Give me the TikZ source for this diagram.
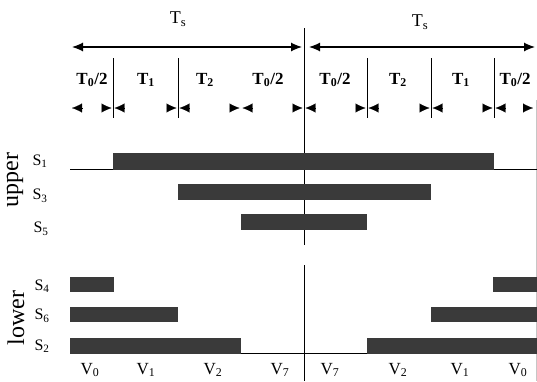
\documentclass[tikz,border=0pt]{standalone}
\usepackage{fontspec}
\setmainfont{Liberation Serif}
\usetikzlibrary{arrows.meta}
\definecolor{barc}{HTML}{3A3A3A}
\newcommand\sbs[1]{\textsubscript{#1}}
\begin{document}
\begin{tikzpicture}[x=1pt,y=-1pt,
  bar/.style={fill=barc,draw=none},
  thin line/.style={line width=0.9pt,black},
  dimtip/.style={-{Latex[length=10pt,width=9pt]},line width=0.1pt},
  seglab/.style={font=\fontsize{17}{17}\selectfont\bfseries,inner sep=0pt},
  slab/.style={font=\fontsize{16}{16}\selectfont,inner sep=0pt},
  vlab/.style={font=\fontsize{17}{17}\selectfont,inner sep=0pt},
  tlab/.style={font=\fontsize{18}{18}\selectfont,inner sep=0pt},
  grplab/.style={font=\fontsize{24}{24}\selectfont,inner sep=0pt,rotate=90}]
\useasboundingbox (0,0) rectangle (537,381);
% faint right border
\draw[gray!45,line width=0.6pt] (536.5,100) -- (536.5,381);
% period arrows
\coordinate (la) at (72,47); \coordinate (lb) at (302,47);
\coordinate (ra) at (309,47); \coordinate (rb) at (535,47);
\draw[line width=1.2pt,{Latex[length=11pt,width=9pt]}-{Latex[length=11pt,width=9pt]}] (la) -- (lb);
\draw[line width=1.2pt,{Latex[length=11pt,width=9pt]}-{Latex[length=11pt,width=9pt]}] (ra) -- (rb);
\node[tlab] (tsl) at (178,19) {T\sbs{s}};
\node[tlab] (tsr) at (420,22) {T\sbs{s}};
% center line
\draw[thin line] (304,28) -- (304,245);
\draw[thin line] (304,265) -- (304,381);
% segment boundaries
\foreach \x in {113,178,367,431,494}{\draw[thin line] (\x,58) -- (\x,118);}
% segment labels
\node[seglab] (a1) at (92,80) {T\sbs{0}/2};
\node[seglab] (a2) at (146,80) {T\sbs{1}};
\node[seglab] (a3) at (205,80) {T\sbs{2}};
\node[seglab] (a4) at (268,80) {T\sbs{0}/2};
\node[seglab] (a5) at (335,80) {T\sbs{0}/2};
\node[seglab] (a6) at (398,80) {T\sbs{2}};
\node[seglab] (a7) at (461,80) {T\sbs{1}};
\node[seglab] (a8) at (515,80) {T\sbs{0}/2};
% dimension tips
\draw[dimtip] (82,108) -- (72,108);
\foreach \x in {113,178,241,304,367,431,494}{
  \draw[dimtip] (\x-11.5,108) -- (\x-1.5,108);
  \draw[dimtip] (\x+11.5,108) -- (\x+1.5,108);
}
\draw[dimtip] (523,108) -- (533,108);
% upper
\draw[thin line] (70,169.5) -- (537,169.5);
\fill[bar] (113,153) rectangle (494,170);
\fill[bar] (178,184) rectangle (431,200);
\fill[bar] (241,214) rectangle (367,230);
\node[slab] (s1) at (40,161) {S\sbs{1}};
\node[slab] (s3) at (40,196) {S\sbs{3}};
\node[slab] (s5) at (41,229) {S\sbs{5}};
\node[grplab] (up) at (15,180) {upper};
% lower
\draw[thin line] (70,353.5) -- (537,353.5);
\fill[bar] (70,277) rectangle (114,292);
\fill[bar] (493,277) rectangle (537,292);
\fill[bar] (70,307) rectangle (178,322);
\fill[bar] (431,307) rectangle (537,322);
\fill[bar] (70,338) rectangle (241,354);
\fill[bar] (367,338) rectangle (537,354);
\node[slab] (s4) at (42,286) {S\sbs{4}};
\node[slab] (s6) at (42,316) {S\sbs{6}};
\node[slab] (s2) at (42,346) {S\sbs{2}};
\node[grplab] (lo) at (16,318) {lower};
% vectors
\node[vlab] (v1) at (90,370) {V\sbs{0}};
\node[vlab] (v2) at (146,370) {V\sbs{1}};
\node[vlab] (v3) at (213,370) {V\sbs{2}};
\node[vlab] (v4) at (280,370) {V\sbs{7}};
\node[vlab] (v5) at (330,370) {V\sbs{7}};
\node[vlab] (v6) at (398,370) {V\sbs{2}};
\node[vlab] (v7) at (460,370) {V\sbs{1}};
\node[vlab] (v8) at (518,370) {V\sbs{0}};
\end{tikzpicture}
\end{document}
